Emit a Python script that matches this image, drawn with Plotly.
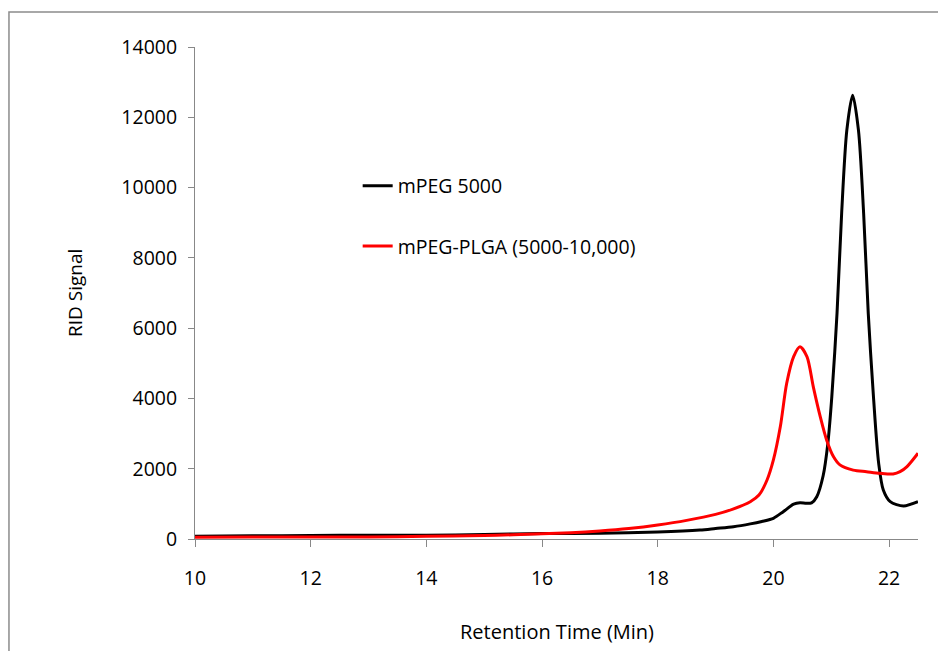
import plotly.graph_objects as go

# Retention time (min) and RID signal
peg_time = [10, 11, 12, 13, 14, 15, 16, 17, 18, 18.73, 19.0, 19.31, 19.6, 19.8, 20.0, 20.17,
            20.35, 20.46, 20.57, 20.66, 20.75, 20.86, 20.94, 21.01, 21.10, 21.18, 21.27, 21.37,
            21.47, 21.56, 21.64, 21.73, 21.82, 21.90, 22.02, 22.25, 22.5]
peg_signal = [80, 90, 100, 110, 105, 130, 155, 162, 200, 256, 300, 351, 430, 500, 590, 778,
              990, 1030, 1015, 1030, 1204, 1800, 2700, 4050, 6420, 9270, 11640, 12630,
              11640, 9270, 6420, 4050, 2153, 1394, 1062, 939, 1060]

plga_time = [10, 11, 12, 13, 14, 15, 15.5, 16, 16.5, 17, 17.5, 18, 18.5, 19.0, 19.3, 19.6,
             19.75, 19.89, 20.0, 20.12, 20.23, 20.35, 20.46, 20.58, 20.69, 20.81, 20.92,
             21.04, 21.15, 21.38, 21.61, 21.84, 22.07, 22.19, 22.31, 22.5]
plga_signal = [50, 55, 60, 60, 75, 100, 120, 150, 180, 230, 300, 400, 530, 700, 850, 1060,
               1250, 1680, 2250, 3200, 4430, 5190, 5470, 5190, 4330, 3480, 2820,
               2340, 2110, 1960, 1915, 1870, 1850, 1915, 2060, 2440]

series_names = ["mPEG 5000", "mPEG-PLGA (5000-10,000)"]
x_ticks = [10, 12, 14, 16, 18, 20, 22]
y_ticks = [0, 2000, 4000, 6000, 8000, 10000, 12000, 14000]

FONT = "'Open Sans', sans-serif"
AX = "#888888"

fig = go.Figure()
fig.add_trace(go.Scatter(x=peg_time, y=peg_signal, mode="lines", name=series_names[0],
                         legendgroup="a",
                         line=dict(color="#000000", width=3, shape="spline", smoothing=0.8)))
fig.add_trace(go.Scatter(x=plga_time, y=plga_signal, mode="lines", name=series_names[1],
                         legendgroup="b",
                         line=dict(color="#FF0000", width=3, shape="spline", smoothing=0.8)))

fig.update_layout(
    width=946, height=651,
    margin=dict(l=187, r=36, t=39, b=120),
    paper_bgcolor="white", plot_bgcolor="white",
    font=dict(family=FONT, size=19, color="#000000"),
    showlegend=True,
    legend=dict(x=0.225, y=0.757, xanchor="left", yanchor="top",
                bgcolor="rgba(0,0,0,0)", font=dict(size=19.5),
                tracegroupgap=32, traceorder="grouped", itemwidth=30),
    xaxis=dict(range=[10, 22.5], tickvals=x_ticks, ticks="outside", ticklen=7,
               tickcolor=AX, showline=True, linecolor=AX, linewidth=1,
               showgrid=False, zeroline=False, ticklabelstandoff=15,
               tickfont=dict(size=19.5)),
    yaxis=dict(range=[0, 14000], tickvals=y_ticks, tickformat="d", ticks="outside",
               ticklen=6, tickcolor=AX, showline=True, linecolor=AX, linewidth=1,
               showgrid=False, zeroline=False, ticklabelstandoff=7,
               tickfont=dict(size=19.5)),
    shapes=[dict(type="rect", xref="paper", yref="paper",
                 x0=-0.2573, x1=1.2, y0=-0.35, y1=1.0711,
                 line=dict(color="#8c8c8c", width=1.5), fillcolor="rgba(0,0,0,0)")],
    annotations=[
        dict(text="RID Signal", xref="paper", yref="paper", x=-0.166, y=0.5,
             textangle=-90, showarrow=False, font=dict(size=19),
             xanchor="center", yanchor="middle"),
        dict(text="Retention Time (Min)", xref="paper", yref="paper", x=0.5007, y=-0.187,
             showarrow=False, font=dict(size=20), xanchor="center", yanchor="middle"),
    ],
)

fig.write_html("out.html")
